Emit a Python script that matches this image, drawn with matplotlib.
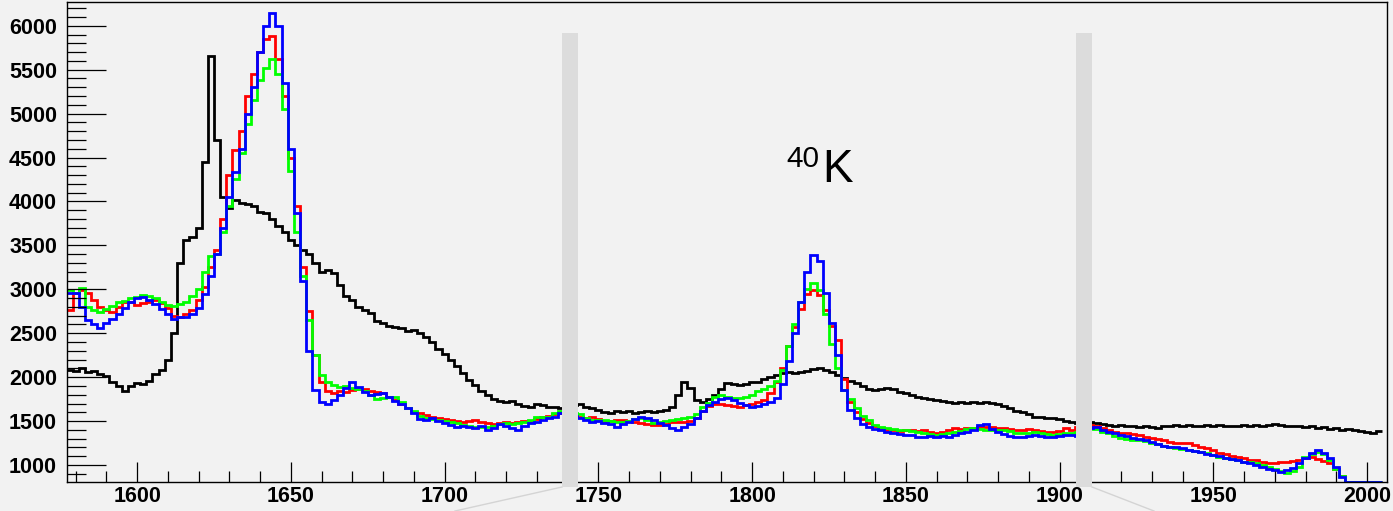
import numpy as np
import matplotlib
matplotlib.use("Agg")
import matplotlib.pyplot as plt
from matplotlib.ticker import MultipleLocator
from matplotlib.patches import Rectangle
from matplotlib.lines import Line2D

# bins are 2 units wide, centred on 1578, 1580, ... 2004
bin_lo = 1577
bin_w = 2

black = [
    2080, 2070, 2100, 2060, 2070, 2040, 2010, 1950, 1900, 1840,
    1900, 1930, 1920, 1960, 2040, 2080, 2190, 2500, 3300, 3560,
    3600, 3700, 4450, 5650, 4700, 4050, 3920, 4020, 3980, 3970,
    3950, 3880, 3870, 3800, 3720, 3650, 3560, 3500, 3450, 3400,
    3300, 3200, 3220, 3180, 3050, 2920, 2880, 2800, 2770, 2730,
    2640, 2620, 2580, 2570, 2560, 2530, 2540, 2500, 2460, 2400,
    2320, 2260, 2200, 2130, 2050, 1970, 1910, 1840, 1800, 1750,
    1730, 1720, 1730, 1700, 1670, 1660, 1700, 1680, 1660, 1660,
    1650, 1640, 1680, 1690, 1660, 1650, 1630, 1600, 1590, 1610,
    1600, 1610, 1590, 1600, 1620, 1600, 1610, 1630, 1660, 1800,
    1950, 1880, 1740, 1720, 1750, 1800, 1870, 1930, 1920, 1910,
    1920, 1940, 1950, 1980, 2000, 2030, 2050, 2060, 2050, 2060,
    2070, 2090, 2100, 2080, 2060, 2020, 1990, 1960, 1930, 1900,
    1860, 1850, 1870, 1880, 1860, 1830, 1820, 1800, 1770, 1760,
    1750, 1740, 1730, 1720, 1710, 1720, 1710, 1720, 1710, 1720,
    1710, 1690, 1670, 1650, 1620, 1600, 1580, 1550, 1550, 1540,
    1530, 1520, 1500, 1490, 1480, 1490, 1490, 1480, 1470, 1460,
    1450, 1460, 1440, 1450, 1430, 1440, 1430, 1420, 1450, 1440,
    1460, 1440, 1460, 1440, 1450, 1460, 1440, 1460, 1450, 1440,
    1450, 1460, 1450, 1455, 1450, 1460, 1470, 1460, 1440, 1450,
    1440, 1430, 1440, 1420, 1430, 1410, 1420, 1400, 1410, 1400,
    1390, 1380, 1370, 1390,
]

red = [
    2760, 2960, 2990, 2960, 2880, 2800, 2760, 2740, 2800, 2850,
    2860, 2820, 2840, 2850, 2880, 2840, 2790, 2700, 2690, 2720,
    2760, 2880, 3030, 3250, 3450, 3800, 4300, 4580, 4800, 5200,
    5450, 5700, 5850, 5880, 5620, 5200, 4500, 3950, 3250, 2750,
    2250, 1950, 1840, 1820, 1840, 1830, 1850, 1870, 1860, 1840,
    1830, 1820, 1780, 1740, 1700, 1650, 1600, 1590, 1570, 1550,
    1540, 1520, 1510, 1500, 1490, 1500, 1510, 1490, 1480, 1470,
    1480, 1490, 1480, 1490, 1500, 1490, 1520, 1545, 1560, 1580,
    1590, 1580, 1550, 1545, 1540, 1545, 1520, 1490, 1500, 1510,
    1510, 1500, 1490, 1480, 1470, 1460, 1455, 1470, 1490, 1490,
    1490, 1500, 1540, 1620, 1670, 1700, 1700, 1680, 1670, 1660,
    1680, 1700, 1720, 1740, 1820, 1950, 2100, 2360, 2570, 2780,
    2950, 2990, 2930, 2760, 2580, 2420, 1980, 1720, 1600, 1520,
    1480, 1440, 1420, 1400, 1400, 1390, 1400, 1400, 1390, 1400,
    1380, 1365, 1380, 1400, 1420, 1410, 1420, 1420, 1430, 1430,
    1430, 1420, 1420, 1410, 1400, 1400, 1410, 1400, 1390, 1380,
    1375, 1390, 1420, 1400, 1430, 1460, 1460, 1450, 1420, 1400,
    1380, 1365, 1360, 1350, 1340, 1320, 1310, 1300, 1280, 1260,
    1255, 1250, 1250, 1230, 1210, 1195, 1170, 1140, 1120, 1100,
    1090, 1075, 1060, 1055, 1040, 1020, 1020, 1030, 1035, 1050,
    1060, 1080, 1090, 1070, 1050, 1020, 960, 880, 780, 0,
    0, 0, 0, 0,
]

green = [
    2990, 2960, 3010, 2800, 2760, 2740, 2780, 2810, 2850, 2870,
    2900, 2910, 2930, 2920, 2900, 2860, 2820, 2810, 2830, 2860,
    2920, 3000, 3200, 3380, 3400, 3650, 3950, 4250, 4550, 4880,
    5150, 5380, 5520, 5620, 5450, 5050, 4350, 3650, 3150, 2650,
    2250, 2020, 1940, 1910, 1890, 1900, 1880, 1870, 1840, 1800,
    1750, 1760, 1780, 1770, 1720, 1650, 1610, 1560, 1540, 1520,
    1510, 1500, 1490, 1480, 1460, 1440, 1430, 1435, 1430, 1450,
    1470, 1480, 1470, 1480, 1490, 1510, 1545, 1550, 1545, 1590,
    1620, 1610, 1590, 1580, 1540, 1510, 1510, 1510, 1500, 1490,
    1490, 1500, 1520, 1535, 1510, 1480, 1490, 1500, 1510, 1520,
    1530, 1545, 1580, 1660, 1710, 1770, 1800, 1780, 1760, 1765,
    1775, 1800, 1840, 1870, 1900, 1960, 2080, 2350, 2600, 2850,
    3000, 3070, 2990, 2720, 2380, 2100, 1850, 1750, 1650, 1560,
    1510, 1460, 1430, 1420, 1410, 1400, 1400, 1390, 1375, 1370,
    1350, 1340, 1350, 1370, 1375, 1390, 1410, 1420, 1410, 1400,
    1400, 1400, 1400, 1390, 1370, 1365, 1370, 1375, 1370, 1350,
    1340, 1350, 1365, 1365, 1380, 1400, 1420, 1410, 1380, 1365,
    1330, 1305, 1300, 1290, 1285, 1270, 1250, 1240, 1220, 1205,
    1195, 1180, 1170, 1160, 1145, 1135, 1110, 1090, 1080, 1065,
    1055, 1040, 1030, 1020, 1000, 975, 960, 930, 910, 930,
    980, 1090, 1130, 1150, 1120, 1060, 960, 880, 790, 0,
    0, 0, 0, 0,
]

blue = [
    2960, 2960, 2800, 2650, 2600, 2560, 2620, 2660, 2720, 2790,
    2860, 2900, 2910, 2880, 2830, 2780, 2720, 2660, 2680, 2690,
    2720, 2790, 2950, 3150, 3400, 3700, 4050, 4330, 4600, 5000,
    5300, 5700, 6000, 6140, 6000, 5350, 4600, 3870, 3100, 2300,
    1850, 1720, 1690, 1740, 1800, 1880, 1940, 1890, 1830, 1800,
    1810, 1820, 1770, 1730, 1700, 1650, 1590, 1520, 1510, 1530,
    1500, 1480, 1460, 1430, 1440, 1430, 1420, 1440, 1400, 1420,
    1470, 1450, 1420, 1400, 1440, 1480, 1490, 1510, 1530, 1550,
    1590, 1600, 1560, 1530, 1510, 1490, 1500, 1480, 1470, 1430,
    1470, 1490, 1520, 1545, 1530, 1510, 1480, 1460, 1420, 1400,
    1430, 1470, 1530, 1610, 1680, 1720, 1750, 1760, 1740, 1710,
    1680, 1660, 1670, 1700, 1720, 1760, 1920, 2180, 2500, 2850,
    3200, 3390, 3320, 2960, 2620, 2250, 1850, 1630, 1530, 1470,
    1430, 1410, 1400, 1380, 1370, 1350, 1340, 1340, 1320, 1320,
    1330, 1320, 1330, 1320, 1340, 1360, 1380, 1400, 1460, 1470,
    1410, 1380, 1350, 1330, 1320, 1320, 1330, 1340, 1330, 1320,
    1320, 1330, 1340, 1340, 1330, 1380, 1420, 1430, 1400, 1380,
    1360, 1340, 1330, 1310, 1300, 1280, 1260, 1240, 1220, 1210,
    1200, 1190, 1170, 1160, 1150, 1130, 1110, 1100, 1080, 1070,
    1060, 1040, 1020, 1000, 980, 960, 940, 920, 940, 970,
    1020, 1080, 1140, 1170, 1140, 1080, 980, 860, 0, 0,
    0, 0, 0, 0,
]

xmin, xmax = 1577.1, 2006.4
ymin, ymax = 807, 6270

bg = "#f2f2f2"
W, H = 1393, 511

fig = plt.figure(figsize=(W / 100, H / 100), dpi=100, facecolor=bg)
ax = fig.add_axes([66.7 / W, 1 - 482 / H, (1386.7 - 66.7) / W, (482 - 2) / H])
ax.set_facecolor(bg)

edges = bin_lo + bin_w * np.arange(len(black) + 1)
for vals, col in [(black, "black"), (red, "#ff0000"), (green, "#00ff00"), (blue, "#0000ff")]:
    v = np.maximum(np.array(vals, dtype=float), ymin)  # ROOT draws empty bins on the frame
    ax.stairs(v, edges, baseline=None, color=col, lw=2.0)

ax.set_xlim(xmin, xmax)
ax.set_ylim(ymin, ymax)

ax.xaxis.set_major_locator(MultipleLocator(50))
ax.xaxis.set_minor_locator(MultipleLocator(10))
ax.yaxis.set_major_locator(MultipleLocator(500))
ax.yaxis.set_minor_locator(MultipleLocator(100))

ax.tick_params(axis="both", which="both", direction="in", top=False, right=False,
               width=0.9, color="black")
ax.tick_params(axis="y", which="major", length=28, pad=7)
ax.tick_params(axis="y", which="minor", length=13.7)
ax.tick_params(axis="x", which="major", length=14.4, pad=3)
ax.tick_params(axis="x", which="minor", length=7.9)

for lab in ax.get_xticklabels() + ax.get_yticklabels():
    lab.set_fontfamily("Liberation Sans")
    lab.set_fontweight("bold")
    lab.set_fontsize(15.5)

for s in ax.spines.values():
    s.set_linewidth(1.0)
    s.set_color("black")

# gray separator bands and the thin lines below them
for x0, x1, xe in [(562, 578, 455), (1076, 1092, 1154)]:
    fig.patches.append(Rectangle((x0 / W, 1 - 487 / H), (x1 - x0) / W, (487 - 33) / H,
                                 transform=fig.transFigure, facecolor="#dcdcdc",
                                 edgecolor="none", zorder=5))
    xs = x0 if xe < x0 else x1
    fig.lines.append(Line2D([xs / W, xe / W], [1 - 487 / H, 0], transform=fig.transFigure,
                            color="#d4d4d4", lw=1.0, zorder=5))

fig.text(822 / W, 1 - 182 / H, "K", fontsize=33, family="Liberation Sans",
         ha="left", va="baseline")
fig.text(819 / W, 1 - 167 / H, "40", fontsize=21.5, family="Liberation Sans",
         ha="right", va="baseline")

fig.savefig("out.png", dpi=100, facecolor=bg)
